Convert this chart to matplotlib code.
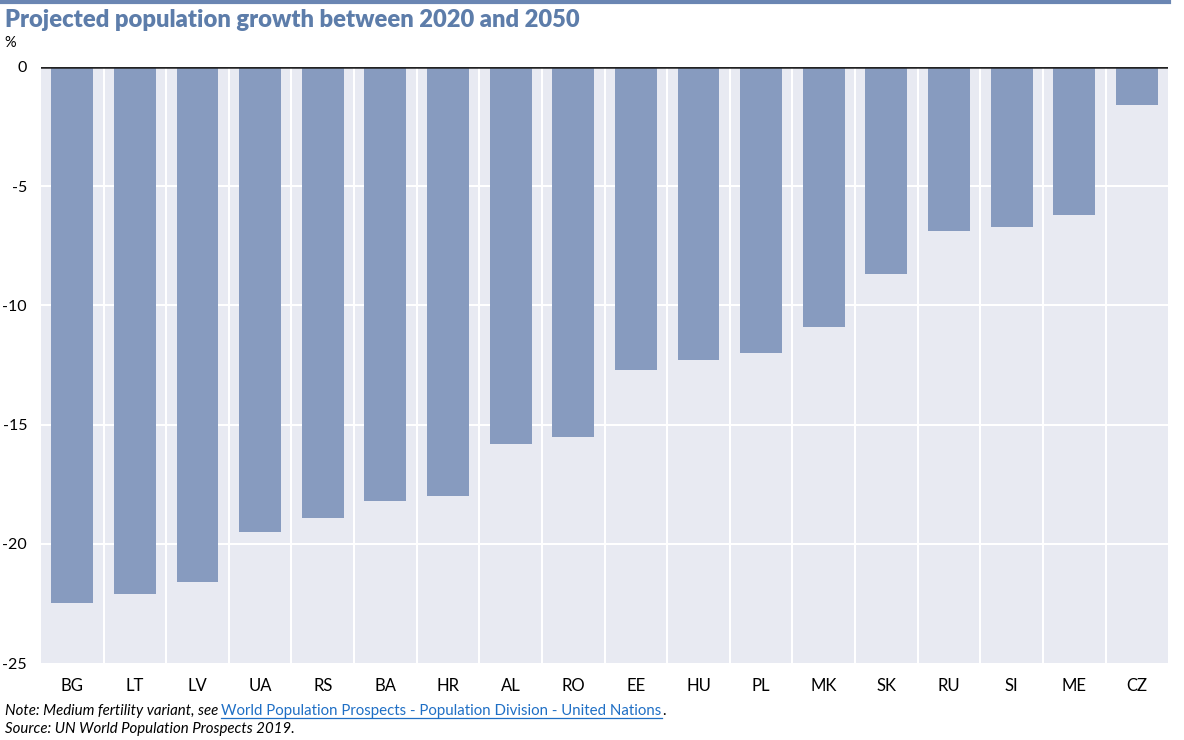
import matplotlib.pyplot as plt
import numpy as np

countries = ["BG", "LT", "LV", "UA", "RS", "BA", "HR", "AL", "RO",
             "EE", "HU", "PL", "MK", "SK", "RU", "SI", "ME", "CZ"]
growth = [-22.5, -22.1, -21.6, -19.5, -18.9, -18.2, -18.0, -15.8, -15.5,
          -12.7, -12.3, -12.0, -10.9, -8.7, -6.9, -6.7, -6.2, -1.6]
yticks = [0, -5, -10, -15, -20, -25]

plt.rcParams['font.family'] = ['Lato', 'DejaVu Sans']

fig = plt.figure(figsize=(11.84, 7.40), dpi=100)
ax = fig.add_axes([0.0346, 0.104, 0.952, 0.8055])
ax.set_facecolor("#E8EAF2")

x = np.arange(len(countries))
ax.bar(x, growth, width=0.67, color="#879BBF", zorder=3)

ax.set_xlim(-0.5, len(countries) - 0.5)
ax.set_ylim(-25, 0)
ax.set_yticks(yticks)
ax.set_yticklabels([str(v) for v in yticks], fontsize=11.5)
ax.set_xticks(x)
ax.set_xticklabels(countries, fontsize=12)
ax.tick_params(length=0)
ax.tick_params(axis="x", pad=11)
ax.tick_params(axis="y", pad=10)

for v in yticks[1:-1]:
    ax.axhline(v, color="white", lw=1.5, zorder=1)
for b in np.arange(0.5, len(countries) - 0.5, 1):
    ax.axvline(b, color="white", lw=1.5, zorder=1)
ax.axhline(0, color="#222222", lw=1.8, zorder=4)
for s in ax.spines.values():
    s.set_visible(False)

# top rule and title
fig.add_artist(plt.Line2D([0, 0.987], [0.997, 0.997], color="#6A86B3", lw=3,
                          transform=fig.transFigure))
fig.text(0.004, 0.988, "Projected population growth between 2020 and 2050",
         fontsize=17.1, fontweight="heavy", color="#5D7DAA", va="top")
fig.text(0.004, 0.952, "%", fontsize=10.5, va="top")

# footnotes
fig.canvas.draw()
r = fig.canvas.get_renderer()
fs = 10.8
t1 = fig.text(0.004, 0.0335, "Note: Medium fertility variant, see ", fontsize=fs,
              style="italic", va="baseline")
bb = t1.get_window_extent(r)
link = fig.text(bb.x1 / fig.bbox.width, 0.0335,
                "World Population Prospects - Population Division - United Nations",
                fontsize=fs, color="#1F6FC5", va="baseline")
lb = link.get_window_extent(r)
fig.text(lb.x1 / fig.bbox.width, 0.0335, ".", fontsize=fs, va="baseline")
uy = 0.0335 - 3.0 / fig.bbox.height
fig.add_artist(plt.Line2D([lb.x0 / fig.bbox.width, lb.x1 / fig.bbox.width], [uy, uy],
                          color="#1F6FC5", lw=0.9, transform=fig.transFigure))
fig.text(0.004, 0.009, "Source: UN World Population Prospects 2019.", fontsize=fs,
         style="italic", va="baseline")

fig.savefig("out.png", dpi=100)
